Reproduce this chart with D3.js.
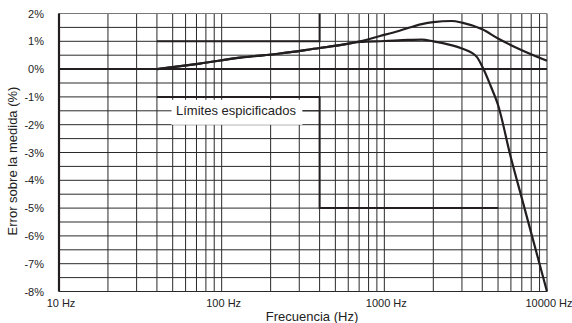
<!DOCTYPE html>
<html>
<head>
<meta charset="utf-8">
<script src="https://cdn.jsdelivr.net/npm/d3@7"></script>
<style>
  html, body { margin: 0; padding: 0; background: #fff; }
  svg { display: block; font-family: "Liberation Sans", Arial, sans-serif; }
</style>
</head>
<body>
<svg id="chart" width="572" height="323"></svg>
<script>
// ---- data ----
const freqTicks = [10, 100, 1000, 10000];
const freqTickLabels = ["10 Hz", "100 Hz", "1000 Hz", "10000 Hz"];
const errTicks = [2, 1, 0, -1, -2, -3, -4, -5, -6, -7, -8];
const errTickLabels = ["2%", "1%", "0%", "-1%", "-2%", "-3%", "-4%", "-5%", "-6%", "-7%", "-8%"];

const curve1Freq = [40, 73.5, 130, 228, 400, 533, 709, 940, 1240, 1700, 2000, 2600, 3000, 4000, 5000, 7000, 10000];
const curve1Err  = [0, 0.2, 0.41, 0.56, 0.76, 0.86, 1.0, 1.19, 1.38, 1.62, 1.69, 1.73, 1.67, 1.43, 1.1, 0.68, 0.3];

const curve2Freq = [40, 73.5, 130, 228, 400, 533, 709, 1000, 1400, 1700, 2000, 2500, 3000, 3700, 4000, 4500, 5000, 6000, 7000, 8000, 10000];
const curve2Err  = [0, 0.2, 0.41, 0.56, 0.76, 0.86, 0.98, 1.01, 1.05, 1.06, 1.0, 0.88, 0.74, 0.44, 0.09, -0.6, -1.29, -3.19, -4.64, -5.9, -8];

const upperLimitFreq = [40, 400, 400];
const upperLimitErr  = [1, 1, 2];
const lowerLimitFreq = [40, 400, 400, 5000];
const lowerLimitErr  = [-1, -1, -5, -5];

const limitLabel = "Límites espicificados";
const xTitle = "Frecuencia (Hz)";
const yTitle = "Error sobre la medida (%)";

// ---- layout ----
const L = 59, R = 547, T = 13.5, B = 291.5;
const svg = d3.select("#chart");
const x = d3.scaleLog().domain([10, 10000]).range([L, R]);
const y = d3.scaleLinear().domain([-8, 2]).range([B, T]);
const ink = "#231f20";

// grid
const g = svg.append("g");
g.selectAll("line.v").data(x.ticks()).join("line")
  .attr("x1", d => x(d)).attr("x2", d => x(d))
  .attr("y1", T).attr("y2", B)
  .attr("stroke", "#2a2a2a").attr("stroke-width", 1);
g.selectAll("line.h").data(d3.range(-8, 2.01, 0.5)).join("line")
  .attr("x1", L).attr("x2", R)
  .attr("y1", d => y(d)).attr("y2", d => y(d))
  .attr("stroke", d => d === 2 ? "#777" : "#2a2a2a").attr("stroke-width", 1);

// zero line & left axis
svg.append("line").attr("x1", L).attr("x2", R).attr("y1", y(0)).attr("y2", y(0))
  .attr("stroke", ink).attr("stroke-width", 2);
svg.append("line").attr("x1", L).attr("x2", L).attr("y1", T).attr("y2", B)
  .attr("stroke", ink).attr("stroke-width", 2.2);

// limits
const lineStep = d3.line().x(d => x(d[0])).y(d => y(d[1]));
svg.append("path").datum(d3.zip(upperLimitFreq, upperLimitErr))
  .attr("d", lineStep).attr("fill", "none").attr("stroke", ink).attr("stroke-width", 2);
svg.append("path").datum(d3.zip(lowerLimitFreq, lowerLimitErr))
  .attr("d", lineStep).attr("fill", "none").attr("stroke", ink).attr("stroke-width", 2);

// curves
const lineCurve = d3.line().x(d => x(d[0])).y(d => y(d[1])).curve(d3.curveMonotoneX);
svg.append("path").datum(d3.zip(curve1Freq, curve1Err))
  .attr("d", lineCurve).attr("fill", "none").attr("stroke", ink).attr("stroke-width", 2.2);
svg.append("path").datum(d3.zip(curve2Freq, curve2Err))
  .attr("d", lineCurve).attr("fill", "none").attr("stroke", ink).attr("stroke-width", 2.2);

// label box
const ly = y(-1.5);
const lblG = svg.append("g");
const lbl = lblG.append("text").attr("x", 176).attr("y", ly + 4.5)
  .attr("font-size", 13).attr("fill", "#222").text(limitLabel);
const bb = lbl.node().getBBox();
lblG.insert("rect", "text").attr("x", 171.5).attr("y", ly - 11)
  .attr("width", bb.x + bb.width + 6 - 171.5).attr("height", 25).attr("fill", "#fff");
lblG.append("line").attr("x1", bb.x + bb.width + 6).attr("x2", x(400))
  .attr("y1", ly).attr("y2", ly).attr("stroke", ink).attr("stroke-width", 1);

// x tick labels
svg.selectAll("text.xt").data(freqTicks).join("text")
  .attr("x", d => x(d) + 2).attr("y", 307)
  .attr("text-anchor", "middle").attr("font-size", 11).attr("fill", "#222")
  .text((d, i) => freqTickLabels[i]);

// y tick labels
svg.selectAll("text.yt").data(errTicks).join("text")
  .attr("x", 44).attr("y", d => y(d) + 4)
  .attr("text-anchor", "end").attr("font-size", 11).attr("fill", "#222")
  .text((d, i) => errTickLabels[i]);

// titles
svg.append("text").attr("x", 312).attr("y", 321).attr("text-anchor", "middle")
  .attr("font-size", 13).attr("fill", "#222").text(xTitle);
svg.append("text").attr("transform", "translate(17,161) rotate(-90)")
  .attr("text-anchor", "middle").attr("font-size", 13).attr("fill", "#222").text(yTitle);
</script>
</body>
</html>
